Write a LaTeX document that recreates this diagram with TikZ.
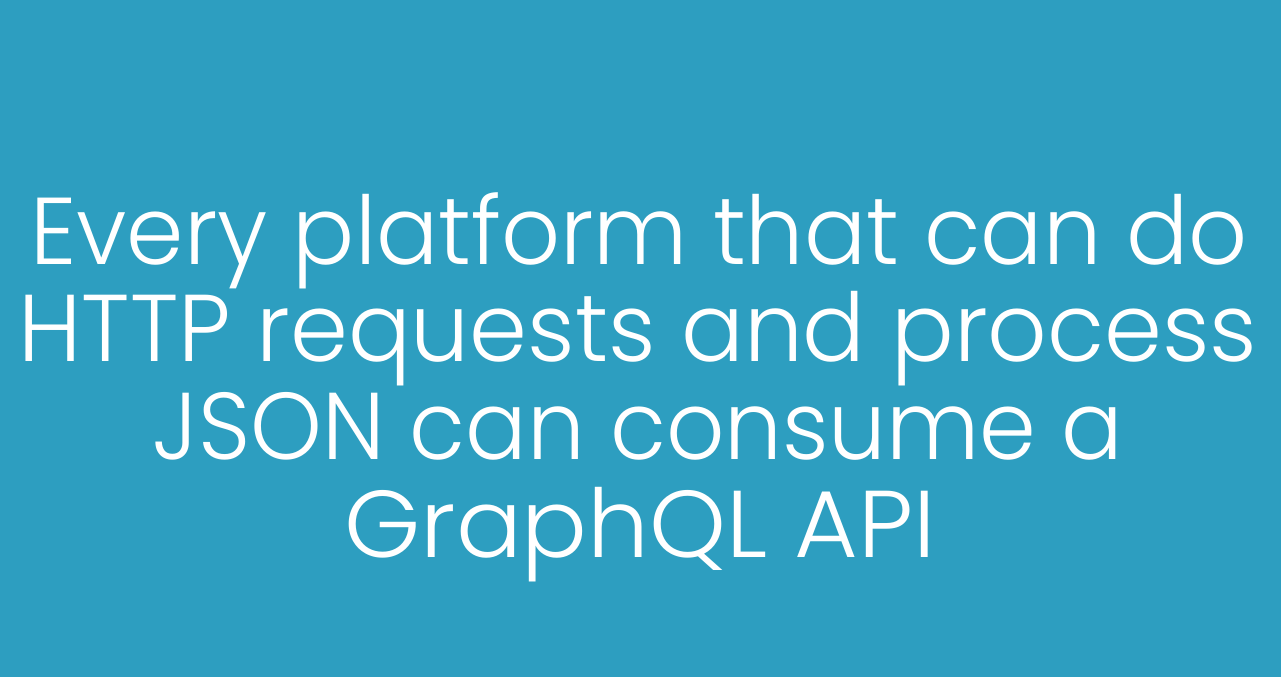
\documentclass[tikz,border=0pt]{standalone}
\usepackage{fontspec}
\IfFontExistsTF{Poppins Light}{\setmainfont{Poppins Light}}{\setmainfont{Lato}}
\definecolor{bgblue}{HTML}{2D9EC0}
\tikzset{line/.style={anchor=base, text=white, inner sep=0pt, font=\fontsize{26.2}{30}\selectfont}}
\begin{document}
\begin{tikzpicture}[x=0.01cm,y=-0.01cm]
\fill[bgblue] (0,0) rectangle (1281,677);
\useasboundingbox (0,0) rectangle (1281,677);
\node[line, yscale=1.03] (l1) at (639,265) {Every platform that can do};
\node[line, yscale=1.03, xscale=1.01] (l2) at (638,362) {HTTP requests and process};
\node[line, yscale=1.03, xscale=0.99] (l3) at (638,460) {JSON can consume a};
\node[line, yscale=1.03, xscale=1.06] (l4) at (640,558) {GraphQL API};
\end{tikzpicture}
\end{document}
